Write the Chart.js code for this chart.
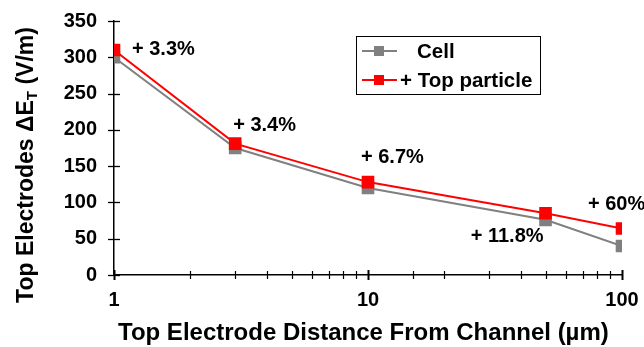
<!DOCTYPE html>
<html><head><meta charset="utf-8">
<script src="https://cdn.jsdelivr.net/npm/chart.js@4/dist/chart.umd.min.js"></script>
<style>html,body{margin:0;padding:0;background:#fff;}#wrap{width:644px;height:347px;}</style>
</head><body><div id="wrap"><canvas id="c" width="644" height="347"></canvas></div>
<script>
// ---- data ----
const distances = [1, 3, 10, 50, 100];
const cellValues = [300, 175, 120, 76, 40];
const topParticleValues = [310, 181, 128, 85, 64];
const seriesNames = ['Cell', '+ Top particle'];
const increaseLabels = ['+ 3.3%', '+ 3.4%', '+ 6.7%', '+ 11.8%', '+ 60%'];
const xTickLabels = [1, 10, 100];
const yMin = 0, yMax = 350, yStep = 50;
const xTitle = 'Top Electrode Distance From Channel (µm)';
const yTitleMain = 'Top Electrodes \u0394E';
const yTitleSub = 'T';
const yTitleEnd = ' (V/m)';

// ---- styles ----
const FONT = '"Liberation Sans", Arial, Helvetica, sans-serif';
const colors = ['#808080', '#ff0000'];
// annotation placement: anchor series index, pixel offsets, alignment
const annStyle = [
  {s: 1, dx: 18, dy: -1, align: 'left'},
  {s: 1, dx: -2, dy: -18, align: 'left'},
  {s: 1, dx: -7, dy: -25, align: 'left'},
  {s: 0, dx: -2, dy: 17, align: 'right'},
  {s: 1, dx: -34, dy: -24, align: 'left'}
];

function isDecade(v) {
  const l = Math.log10(v);
  return Math.abs(l - Math.round(l)) < 1e-9;
}

const decorPlugin = {
  id: 'decor',
  beforeDatasetsDraw(chart) {
    const ctx = chart.ctx;
    const xs = chart.scales.x, ys = chart.scales.y;
    ctx.save();
    ctx.strokeStyle = '#000';
    ctx.lineWidth = 1.3;
    for (const t of ys.ticks) {
      const py = Math.round(ys.getPixelForValue(t.value)) + 0.5;
      ctx.beginPath();
      ctx.moveTo(xs.left - 6, py);
      ctx.lineTo(xs.left + 6, py);
      ctx.stroke();
    }
    for (const t of xs.ticks) {
      const px = Math.round(xs.getPixelForValue(t.value)) + 0.5;
      const major = isDecade(t.value);
      const h = major ? 5 : 4;
      ctx.lineWidth = major ? 2 : 1.2;
      ctx.beginPath();
      ctx.moveTo(px, ys.bottom - h);
      ctx.lineTo(px, ys.bottom + h);
      ctx.stroke();
    }
    ctx.restore();
  },
  afterDraw(chart) {
    const ctx = chart.ctx;
    ctx.save();
    ctx.fillStyle = '#000';
    ctx.font = 'bold 20px ' + FONT;
    ctx.textBaseline = 'middle';
    increaseLabels.forEach((txt, i) => {
      const st = annStyle[i];
      const meta = chart.getDatasetMeta(st.s === 0 ? 0 : 1);
      const pt = meta.data[i];
      ctx.textAlign = st.align;
      ctx.fillText(txt, pt.x + st.dx, pt.y + st.dy);
    });
    // x title
    ctx.font = 'bold 24px ' + FONT;
    ctx.textAlign = 'left';
    ctx.textBaseline = 'middle';
    ctx.fillText(xTitle, 118, 333);
    // y title (rotated, with subscript)
    ctx.save();
    ctx.translate(25, 165);
    ctx.rotate(-Math.PI / 2);
    const fMain = 'bold 23px ' + FONT, fSub = 'bold 15px ' + FONT;
    ctx.font = fMain; const w1 = ctx.measureText(yTitleMain).width;
    const w3 = ctx.measureText(yTitleEnd).width;
    ctx.font = fSub; const w2 = ctx.measureText(yTitleSub).width;
    let x0 = -(w1 + w2 + w3) / 2;
    ctx.textAlign = 'left';
    ctx.textBaseline = 'alphabetic';
    ctx.font = fMain; ctx.fillText(yTitleMain, x0, 8);
    ctx.font = fSub; ctx.fillText(yTitleSub, x0 + w1, 12);
    ctx.font = fMain; ctx.fillText(yTitleEnd, x0 + w1 + w2, 8);
    ctx.restore();
    // legend
    const lx = 356, ly = 36, lw = 184, lh = 58;
    ctx.fillStyle = '#fff';
    ctx.fillRect(lx, ly, lw, lh);
    ctx.strokeStyle = '#000';
    ctx.lineWidth = 1;
    ctx.strokeRect(lx + 0.5, ly + 0.5, lw, lh);
    const rows = [{y: 51, tx: 417}, {y: 80, tx: 400}];
    ctx.font = 'bold 20.5px ' + FONT;
    ctx.textAlign = 'left';
    ctx.textBaseline = 'middle';
    seriesNames.forEach((name, i) => {
      const r = rows[i];
      ctx.strokeStyle = colors[i];
      ctx.lineWidth = 2;
      ctx.beginPath();
      ctx.moveTo(362, r.y); ctx.lineTo(397, r.y); ctx.stroke();
      ctx.fillStyle = colors[i];
      ctx.fillRect(379 - 5, r.y - 5, 10, 10);
      ctx.fillStyle = '#000';
      ctx.fillText(name, r.tx, r.y + 1);
    });
    ctx.restore();
  }
};

const yTickValues = [];
for (let v = yMin; v <= yMax; v += yStep) yTickValues.push(v);

new Chart(document.getElementById('c'), {
  type: 'line',
  data: {
    datasets: [
      {
        label: seriesNames[0],
        data: distances.map((d, i) => ({x: d, y: cellValues[i]})),
        borderColor: colors[0], backgroundColor: colors[0],
        borderWidth: 2, pointStyle: 'rect', pointRadius: 7.5, pointHoverRadius: 7.5,
        tension: 0, order: 2
      },
      {
        label: seriesNames[1],
        data: distances.map((d, i) => ({x: d, y: topParticleValues[i]})),
        borderColor: colors[1], backgroundColor: colors[1],
        borderWidth: 2, pointStyle: 'rect', pointRadius: 7.5, pointHoverRadius: 7.5,
        tension: 0, order: 1
      }
    ]
  },
  options: {
    responsive: false,
    animation: false,
    events: [],
    layout: {padding: {left: 0, right: 22, top: 21, bottom: 0}},
    plugins: {legend: {display: false}, tooltip: {enabled: false}},
    scales: {
      x: {
        type: 'logarithmic', min: 1, max: 100, position: 'bottom',
        afterFit: s => { s.height = 72; s.paddingLeft = 0; s.paddingRight = 0; },
        grid: {display: true, drawOnChartArea: false, drawTicks: false},
        border: {display: true, color: '#000', width: 1.5},
        ticks: {
          autoSkip: false, maxRotation: 0, minRotation: 0, padding: 13,
          color: '#000', font: {family: FONT, size: 20, weight: 'bold'},
          callback: v => (xTickLabels.includes(Math.round(v)) && isDecade(v)) ? String(Math.round(v)) : ''
        }
      },
      y: {
        type: 'linear', min: yMin, max: yMax,
        afterFit: s => { s.width = 114; s.paddingTop = 0; s.paddingBottom = 0; },
        afterBuildTicks: s => { s.ticks = yTickValues.map(v => ({value: v})); },
        grid: {display: true, drawOnChartArea: false, drawTicks: false},
        border: {display: true, color: '#000', width: 1.5},
        ticks: {
          padding: 17, color: '#000', font: {family: FONT, size: 20, weight: 'bold'}
        }
      }
    }
  },
  plugins: [decorPlugin]
});
</script>
</body></html>
